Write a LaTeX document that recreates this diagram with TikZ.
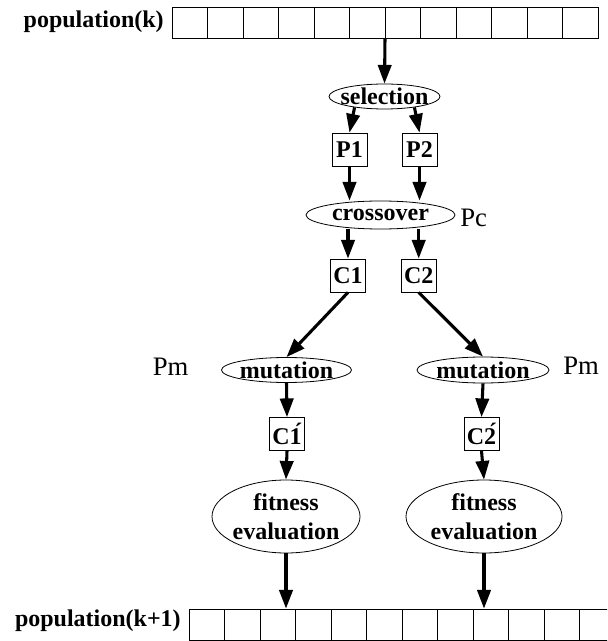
\documentclass[tikz,border=0pt]{standalone}
\usepackage{fontspec}
\setmainfont{Liberation Serif}
\usetikzlibrary{shapes.geometric,arrows.meta}

\begin{document}
\begin{tikzpicture}[x=0.75pt,y=-0.75pt,
    lbl/.style={font=\fontsize{18}{22}\selectfont\bfseries},
    prob/.style={font=\fontsize{20}{24}\selectfont, inner sep=0pt},
    box/.style={lbl, draw, line width=0.6pt, minimum width=26.25pt, minimum height=24.75pt, inner sep=0pt},
    oval/.style={lbl, ellipse, draw, line width=0.6pt, inner xsep=-6pt, inner ysep=0pt, align=center},
    row/.style={draw, line width=0.6pt, minimum width=319.5pt, minimum height=23.25pt, inner sep=0pt},
    cell/.style={line width=0.6pt},
    arr/.style={line width=2.3pt, -{Triangle[length=14pt,width=10pt]}}]
      \useasboundingbox (0,0) rectangle (607,641);
      \clip (0,0) rectangle (607,641);
      % population(k)
      \node[row] (pop) at (385,22.5) {};
      \foreach \i in {1,...,11}
        \draw[cell] (172+\i*35.5,7) -- (172+\i*35.5,38);
      \node[lbl, anchor=east, inner sep=0pt] (popk) at (164,22) {population(k)};
      % selection and crossover
      \node[oval, minimum width=83.25pt, minimum height=18.75pt] (sel) at (384.5,96.5) {selection};
      \node[box] (p1) at (349.5,149.5) {P1};
      \node[box] (p2) at (419.5,149.5) {P2};
      \node[oval, minimum width=111.75pt, minimum height=21pt] (cross) at (380.5,215) {crossover};
      \node[prob, anchor=west] (pc) at (460,218) {Pc};
      \node[box] (c1) at (348,275.5) {C1};
      \node[box] (c2) at (418.7,275.5) {C2};
      % mutation
      \node[oval, minimum width=97.5pt, minimum height=18.75pt] (mutl) at (286.5,370) {mutation};
      \node[oval, minimum width=99pt, minimum height=19.5pt] (mutr) at (483,370) {mutation};
      \node[prob, anchor=west] (pml) at (152.5,367) {Pm};
      \node[prob, anchor=west] (pmr) at (563,366) {Pm};
      \node[box] (c1p) at (287,434) {C\'{1}};
      \node[box] (c2p) at (481.5,434) {C\'{2}};
      % fitness evaluation
      \node[oval, minimum width=111pt, minimum height=54.75pt] (fitl) at (286,516.5) {fitness\\evaluation};
      \node[oval, minimum width=117pt, minimum height=54.75pt] (fitr) at (484,516.5) {fitness\\evaluation};
      % population(k+1)
      \node[row] (popnext) at (402,624.5) {};
      \foreach \i in {1,...,11}
        \draw[cell] (189+\i*35.5,609) -- (189+\i*35.5,640);
      \node[lbl, anchor=east, inner sep=0pt] (popk1) at (181,621) {population(k+1)};
      % arrows
      \draw[arr] (pop.south) -- (sel.north);
      \draw[arr] (sel.200) -- (p1.north);
      \draw[arr] (sel.-20) -- (p2.north);
      \draw[arr] (p1.south) -- (p1.south |- cross.north);
      \draw[arr] (p2.south) -- (p2.south |- cross.north);
      \draw[arr] (c1.north |- cross.south) -- (c1.north);
      \draw[arr] (c2.north |- cross.south) -- (c2.north);
      \draw[arr] (c1.south) -- (mutl.north);
      \draw[arr] (c2.south) -- (mutr.north);
      \draw[arr] (mutl.south) -- (c1p.north);
      \draw[arr] (mutr.south) -- (c2p.north);
      \draw[arr] (c1p.south) -- (fitl.north);
      \draw[arr] (c2p.south) -- (fitr.north);
      \draw[arr] (fitl.south) -- (fitl.south |- popnext.north);
      \draw[arr] (fitr.south) -- (fitr.south |- popnext.north);
\end{tikzpicture}
\end{document}
